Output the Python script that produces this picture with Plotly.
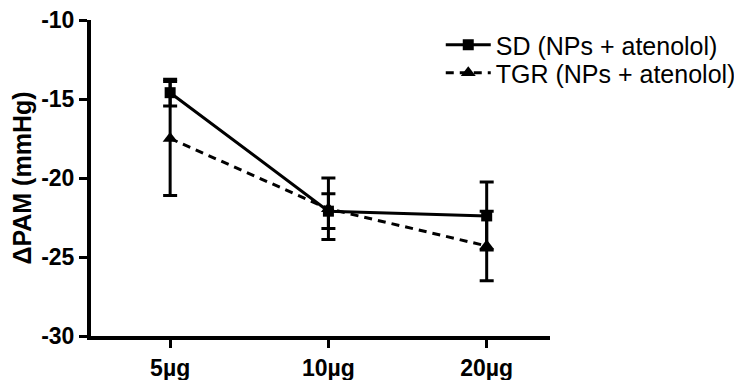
import plotly.graph_objects as go

categories = ["5µg", "10µg", "20µg"]
sd_mean = [-14.6, -22.1, -22.4]
sd_err = [0.85, 1.1, 2.15]
tgr_mean = [-17.5, -21.95, -24.3]
tgr_err = [3.6, 1.95, 2.2]
y_ticks = [-10, -15, -20, -25, -30]
y_ticktext = ["-10", "-15", "-20", "-25", "-30"]

xpos = list(range(len(categories)))
FONT = "Liberation Sans, Arial, sans-serif"

fig = go.Figure()
fig.add_trace(go.Scatter(
    x=xpos, y=sd_mean, name="SD (NPs + atenolol)", mode="lines+markers",
    line=dict(color="black", width=3),
    marker=dict(symbol="square", size=11, color="black"),
    error_y=dict(type="data", array=sd_err, visible=True, color="black",
                 thickness=3, width=7),
    legend="legend",
))
fig.add_trace(go.Scatter(
    x=xpos, y=tgr_mean, name="TGR (NPs + atenolol)", mode="lines+markers",
    line=dict(color="black", width=3, dash="8px,6px"),
    marker=dict(symbol="triangle-up", size=13, color="black"),
    error_y=dict(type="data", array=tgr_err, visible=True, color="black",
                 thickness=3, width=7),
    legend="legend2",
))

leg_common = dict(xanchor="left", yanchor="middle",
                  font=dict(size=25, family=FONT, color="black"),
                  bgcolor="rgba(0,0,0,0)", itemwidth=45)

fig.update_layout(
    width=734, height=372,
    margin=dict(l=83, r=192, t=12, b=44, autoexpand=False),
    paper_bgcolor="white", plot_bgcolor="white",
    font=dict(family=FONT, color="black"),
    showlegend=True,
    legend=dict(x=0.762, y=1 - (45 - 20) / 316, **leg_common),
    legend2=dict(x=0.762, y=1 - (73 - 20) / 316, **leg_common),
    xaxis=dict(
        range=[-0.5, 2.4], tickvals=xpos, ticktext=categories,
        showline=True, linecolor="black", linewidth=4,
        ticks="outside", ticklen=8, tickwidth=3, tickcolor="black",
        showgrid=False, zeroline=False, automargin=False,
        ticklabeloverflow="allow",
        tickfont=dict(size=23, family=FONT, weight="bold", color="black"),
    ),
    yaxis=dict(
        range=[-30, -10], tickvals=y_ticks, ticktext=y_ticktext,
        showline=True, linecolor="black", linewidth=4,
        ticks="outside", ticklen=8, tickwidth=3, tickcolor="black",
        showgrid=False, zeroline=False, automargin=False,
        ticklabeloverflow="allow",
        tickfont=dict(size=23, family=FONT, weight="bold", color="black"),
        title=dict(text="ΔPAM (mmHg)", standoff=7,
                   font=dict(size=25, family=FONT, weight="bold", color="black")),
    ),
)

fig.write_html("out.html")
